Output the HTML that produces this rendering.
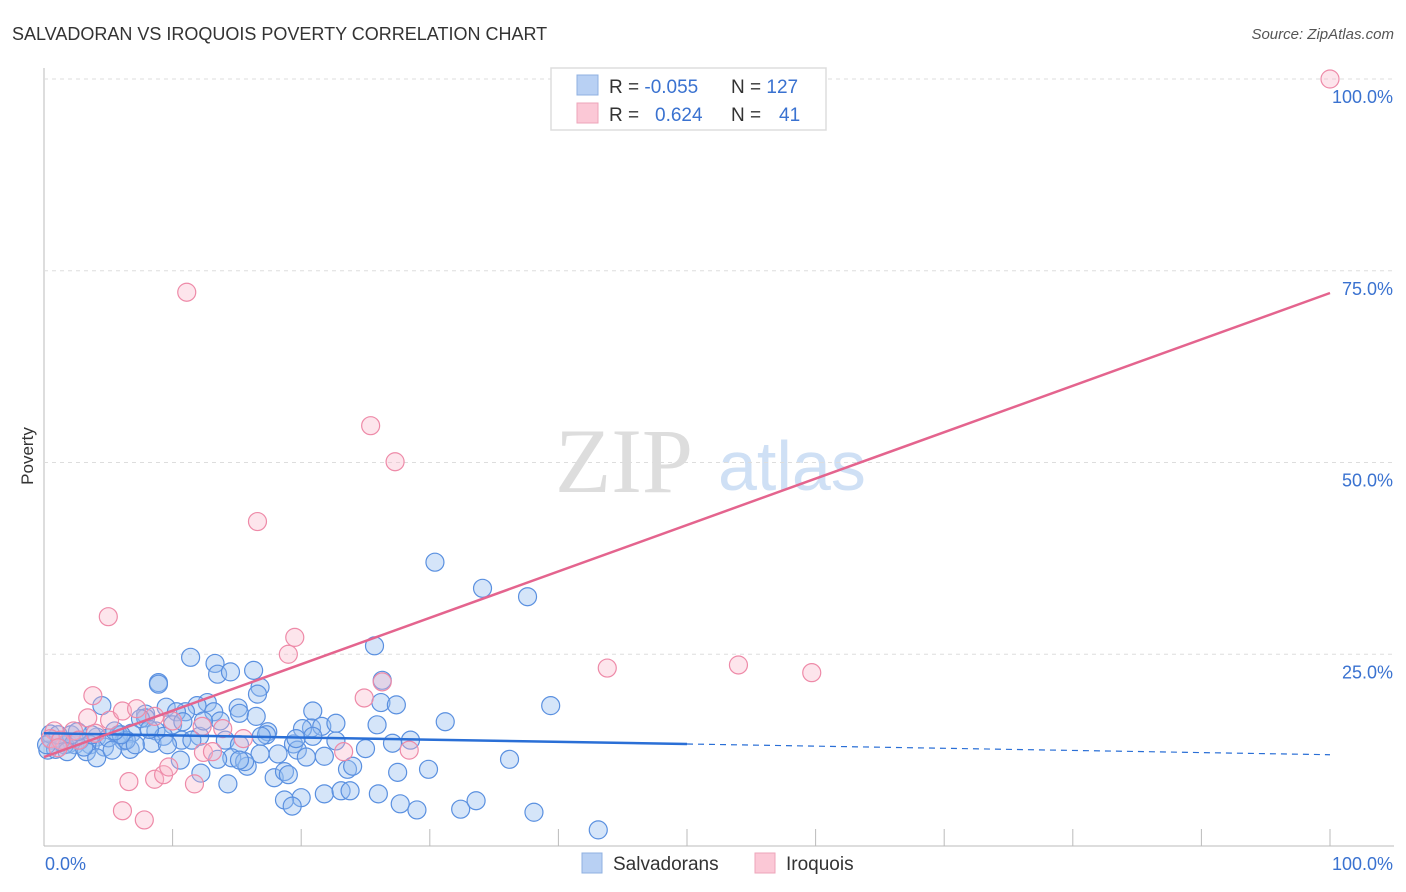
<!DOCTYPE html>
<html><head><meta charset="utf-8"><style>
body{margin:0;background:#fff;font-family:"Liberation Sans",sans-serif}
#wrap{position:relative;width:1406px;height:892px;overflow:hidden}
</style></head><body>
<div id="wrap">
<svg id="svg" width="1406" height="892" xmlns="http://www.w3.org/2000/svg">
<text x="12" y="40" font-size="18" fill="#333">SALVADORAN VS IROQUOIS POVERTY CORRELATION CHART</text>
<text x="1394" y="39" font-size="15" fill="#555" font-style="italic" text-anchor="end">Source: ZipAtlas.com</text>
<text transform="translate(33,456) rotate(-90)" font-size="17" fill="#333" text-anchor="middle">Poverty</text>
<text x="555" y="492" font-size="92" fill="#ddd" font-family="Liberation Serif,serif">ZIP</text>
<text x="718" y="490" font-size="70" fill="#cfe0f5">atlas</text>
<g id="grid"></g><g id="marks"></g><g id="lines"></g>
<g>
<rect x="551" y="68" width="275" height="62" fill="#fff" stroke="#ddd" stroke-width="1.5"/>
<rect x="577" y="75" width="21" height="20" fill="#b8d0f3" stroke="#8fb0e0"/>
<rect x="577" y="103" width="21" height="20" fill="#fbc8d6" stroke="#eea5ba"/>
<text x="609" y="93" font-size="19" fill="#333">R = <tspan fill="#3a72d0">-0.055</tspan></text>
<text x="731" y="93" font-size="19" fill="#333">N = <tspan fill="#3a72d0">127</tspan></text>
<text x="609" y="121" font-size="19" fill="#333">R = <tspan fill="#3a72d0" x="655">0.624</tspan></text>
<text x="731" y="121" font-size="19" fill="#333">N = <tspan fill="#3a72d0" x="779">41</tspan></text>
</g>
<g>
<rect x="582" y="853" width="20" height="20" fill="#b8d0f3" stroke="#8fb0e0"/>
<text x="613" y="870" font-size="19" fill="#333">Salvadorans</text>
<rect x="755" y="853" width="20" height="20" fill="#fbc8d6" stroke="#eea5ba"/>
<text x="786" y="870" font-size="19" fill="#333">Iroquois</text>
</g>
</svg>
</div>
<script>
const xTickLabels=["0.0%","100.0%"];
const yTickValues=[25,50,75,100];
const yTickLabels=["25.0%","50.0%","75.0%","100.0%"];
const blueX=[30.4,34.1,37.6,25.7,11.4,13.3,16.3,13.5,14.5,8.9,26.3,16.8,16.6,8.9,4.5,9.5,12.7,15.1,11.9,11.0,7.9,10.3,13.2,15.2,16.5,26.2,27.4,39.4,31.2,25.9,20.8,21.6,22.7,20.1,17.4,20.9,7.9,7.5,10.0,10.8,8.7,6.8,5.8,4.1,3.6,1.9,1.2,0.6,0.3,0.9,2.4,2.8,4.7,6.2,6.7,3.3,4.1,8.4,10.7,12.1,14.1,15.2,17.3,19.4,19.7,20.4,21.8,27.1,25.0,18.2,16.8,14.6,13.5,15.8,10.6,12.2,14.3,17.9,18.7,19.0,23.6,24.0,27.5,29.9,36.2,20.0,21.8,23.1,23.8,26.0,27.7,29.0,18.7,19.3,32.4,33.6,38.1,43.1,6.4,7.1,5.0,1.6,3.1,5.3,15.6,13.7,11.5,9.3,3.7,2.1,0.5,0.2,1.1,1.8,8.2,9.6,15.2,16.9,20.9,22.7,28.5,6.0,12.4,5.5,2.6,19.6];
const blueY=[37.0,33.6,32.5,26.1,24.6,23.8,22.9,22.4,22.7,21.3,21.6,20.7,19.8,21.1,18.3,18.1,18.7,18.0,18.3,17.5,17.2,17.5,17.5,17.3,16.9,18.7,18.4,18.3,16.2,15.8,15.4,15.6,16.0,15.3,14.9,14.3,16.7,16.6,15.8,16.2,15.0,14.7,14.5,14.2,13.2,13.3,13.6,13.8,12.5,12.6,13.2,13.8,12.9,13.7,12.6,12.3,11.5,13.4,13.8,14.3,13.8,13.2,14.5,13.3,12.5,11.6,11.7,13.4,12.7,12.0,12.0,11.5,11.3,10.4,11.2,9.5,8.1,8.9,9.7,9.3,10.0,10.4,9.6,10.0,11.3,6.3,6.8,7.2,7.2,6.8,5.5,4.7,6.0,5.2,4.8,5.9,4.4,2.1,13.8,13.2,14.1,13.2,12.9,12.5,11.0,16.3,13.8,14.3,14.5,14.5,14.6,13.2,14.5,12.3,15.2,13.2,11.2,14.3,17.6,13.7,13.8,14.5,16.3,15.0,14.9,14.0];
const pinkX=[100,11.1,25.4,27.3,16.6,5.0,19.5,19.0,43.8,54.0,59.7,26.3,24.9,3.8,5.1,3.4,6.1,7.2,8.6,10.0,12.3,13.9,15.5,12.4,13.1,0.8,0.5,2.3,4.0,23.3,28.4,6.6,8.6,9.3,9.7,11.7,6.1,7.8,1.3,2.7,1.1];
const pinkY=[100,72.2,54.8,50.1,42.3,29.9,27.2,25.0,23.2,23.6,22.6,21.4,19.3,19.6,16.4,16.7,17.6,17.9,16.9,16.3,15.6,15.3,14.0,12.2,12.3,15.0,14.0,15.0,14.7,12.3,12.5,8.4,8.7,9.3,10.3,8.1,4.6,3.4,13.8,13.8,12.8];
const blueFit=[14.7,11.9], pinkFit=[11.6,72.1];
const X=v=>44+v*12.86, Y=v=>846-v*7.67;
const NS="http://www.w3.org/2000/svg";
function mk(tag,attrs,parent){const e=document.createElementNS(NS,tag);for(const k in attrs)e.setAttribute(k,attrs[k]);parent.appendChild(e);return e;}
const grid=document.getElementById('grid'),marks=document.getElementById('marks'),lines=document.getElementById('lines'),svg=document.getElementById('svg');
mk('line',{x1:44,y1:68,x2:44,y2:846,stroke:'#bbb'},grid);
mk('line',{x1:44,y1:846,x2:1394,y2:846,stroke:'#bbb'},grid);
for(let i=0;i<=10;i++){const t=mk('line',{x1:X(i*10),y1:829,x2:X(i*10),y2:846,stroke:'#bbb'},grid);

}
yTickValues.forEach((v,i)=>{const g=mk('line',{x1:44,y1:Y(v),x2:1394,y2:Y(v),stroke:'#ddd','stroke-dasharray':'4,4'},grid);


const t=mk('text',{x:1393,y:Y(v)+24,'font-size':18,fill:'#3a72d0','text-anchor':'end'},grid);t.textContent=yTickLabels[i];

});
[[0,'start',45],[100,'end',1393]].forEach((a,i)=>{const t=mk('text',{x:a[2],y:870,'font-size':18,fill:'#3a72d0','text-anchor':a[1]},grid);t.textContent=xTickLabels[i];

});
blueX.forEach((x,i)=>{const c=mk('circle',{cx:X(x),cy:Y(blueY[i]),r:9,fill:'rgba(150,190,240,0.4)',stroke:'#5a90e0','stroke-width':1.2},marks);

});
pinkX.forEach((x,i)=>{const c=mk('circle',{cx:X(x),cy:Y(pinkY[i]),r:9,fill:'rgba(250,180,200,0.35)',stroke:'#ee8aa8','stroke-width':1.2},marks);

});
const bAt=x=>blueFit[0]+(blueFit[1]-blueFit[0])*x/100;
let l=mk('line',{x1:X(0),y1:Y(bAt(0)),x2:X(50),y2:Y(bAt(50)),stroke:'#2a6fd6','stroke-width':2.5},lines);


l=mk('line',{x1:X(50),y1:Y(bAt(50)),x2:X(100),y2:Y(bAt(100)),stroke:'#2a6fd6','stroke-width':1.2,'stroke-dasharray':'6,5'},lines);


l=mk('line',{x1:X(0),y1:Y(pinkFit[0]),x2:X(100),y2:Y(pinkFit[1]),stroke:'#e4648e','stroke-width':2.5},lines);


</script>
</body></html>
